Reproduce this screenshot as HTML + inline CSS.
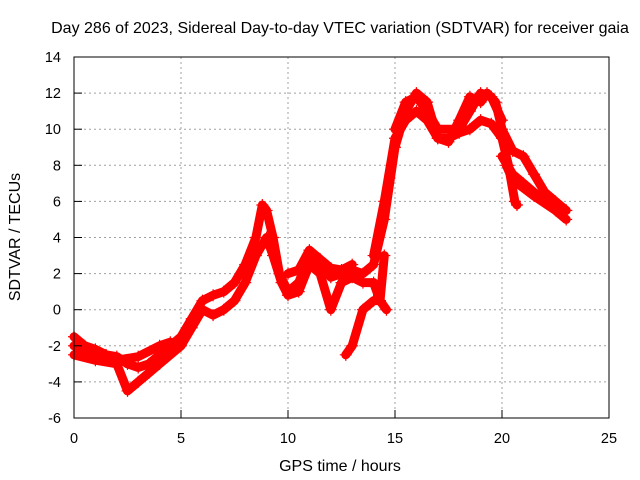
<!DOCTYPE html>
<html><head><meta charset="utf-8"><style>
body{margin:0;background:#fff;}
svg{display:block;font-family:"Liberation Sans",sans-serif;}
</style></head><body>
<svg id="chart" width="640" height="480" viewBox="0 0 640 480">
<rect width="640" height="480" fill="#fff"/>
<text x="340" y="33" text-anchor="middle" font-size="16">Day 286 of 2023, Sidereal Day-to-day VTEC variation (SDTVAR) for receiver gaia</text>
<g id="grid"></g>
<g id="series"></g>
<rect x="74" y="57" width="535" height="361" fill="none" stroke="#000"/>
<g id="axes"></g>
<text x="340" y="471" text-anchor="middle" font-size="16">GPS time / hours</text>
<text transform="translate(20,237) rotate(-90)" text-anchor="middle" font-size="16">SDTVAR / TECUs</text>
</svg>
<script>
const xTicks=[0,5,10,15,20,25];
const yTicks=[-6,-4,-2,0,2,4,6,8,10,12,14];
const trackA=[[0,-1.5],[0.5,-2],[1,-2.2],[1.5,-2.5],[2,-2.6],[2.5,-3],[3,-3.2],[3.5,-3],[4,-2.5],[4.5,-2],[5,-1.5],[5.5,-0.5],[6,0.5],[6.5,0.8],[7,1],[7.5,1.5],[8,2.5],[8.5,4],[8.8,5.8],[9,5.5],[9.3,4],[9.6,2],[10,1],[10.5,1.5],[11,3],[11.5,2.5],[12,1.8],[12.5,2],[13,2.2],[13.5,2],[14,2.5],[14.5,5],[15,9],[15.5,11],[16,12],[16.5,11.5],[17,9.5],[17.5,9.3],[18,10.5],[18.5,11.8],[19,11.5],[19.3,12],[19.7,11.5],[20,10],[20.5,8.8],[21,8.5],[21.5,7.5],[22,6.5],[22.5,6],[23,5.5]];
const trackB=[[0,-2.5],[1,-2.8],[2,-3],[2.5,-4.5],[3,-4],[3.5,-3.5],[4,-3],[5,-2],[5.5,-1],[6,0],[6.5,-0.3],[7,0],[7.5,0.5],[8,1.5],[8.5,3],[9,4],[9.3,3],[9.7,1.5],[10,0.8],[10.5,1],[11,2.5],[11.5,2],[12,0],[12.5,1.5],[13,1.8],[13.5,1.5],[14,1.5],[14.3,0.5],[14.6,0]];
const trackC=[[12.7,-2.5],[13,-2],[13.5,0],[14,0.5],[14.3,0.5],[14.5,3]];
const trackD=[[14,3],[14.5,6],[15,9.5],[15.5,10.5],[16,11],[16.5,10.5],[17,9.5],[17.5,9.5],[18,9.8],[18.5,10],[19,10.5],[19.5,10.3],[20,9.5],[20.3,8],[20.6,6],[20.7,5.8]];
const trackE=[[20,8.5],[20.5,7.5],[21,7],[22,6],[23,5.5]];
const trackF=[[20.2,8],[20.5,7.2],[21.5,6.3],[22.5,5.5],[23,5]];
const trackG=[[0,-2],[1,-2.5],[2,-2.8],[3,-2.6],[4,-2],[4.5,-1.8]];
const trackH=[[10,2],[10.5,2.2],[11,3.3],[11.5,2.8],[12,2.3],[12.5,2.2],[13,2.5]];
const trackI=[[15,10],[15.5,11.5],[16,11.8],[16.5,11],[17,10],[18,10],[18.5,11],[19,12],[19.5,11.8],[20,10.5]];
const tracks=[trackA,trackB,trackC,trackD,trackE,trackF,trackG,trackH,trackI];
const NS="http://www.w3.org/2000/svg";
const X=v=>74+v*535/25, Y=v=>418-(v+6)*361/20;
const grid=document.getElementById('grid'),axes=document.getElementById('axes'),ser=document.getElementById('series');
function mk(tag,at,parent){const e=document.createElementNS(NS,tag);for(const k in at)e.setAttribute(k,at[k]);parent.appendChild(e);return e;}
xTicks.forEach(t=>{
 const gl=mk('line',{x1:X(t),x2:X(t),y1:57,y2:418,stroke:'#a0a0a0','stroke-dasharray':'2,3','stroke-width':1},grid);
 
 
 const tk=mk('line',{x1:X(t),x2:X(t),y1:418,y2:410,stroke:'#000'},axes);
 
 
 const tx=mk('text',{x:X(t),y:443,'text-anchor':'middle','font-size':14.5},axes);tx.textContent=t;
 
 
});
yTicks.forEach(t=>{
 const gl=mk('line',{x1:74,x2:609,y1:Y(t),y2:Y(t),stroke:'#a0a0a0','stroke-dasharray':'2,3','stroke-width':1},grid);
 
 
 const tk=mk('line',{x1:74,x2:82,y1:Y(t),y2:Y(t),stroke:'#000'},axes);
 
 
 const tx=mk('text',{x:61,y:Y(t)+5,'text-anchor':'end','font-size':14.5},axes);tx.textContent=t;
 
 
});
tracks.forEach(tr=>{
 const p=mk('polyline',{points:tr.map(d=>X(d[0])+','+Y(d[1])).join(' '),fill:'none',stroke:'#ff0000','stroke-width':9,'stroke-linejoin':'round','stroke-linecap':'round'},ser);
 
 
 tr.forEach(d=>{
  const x=X(d[0]),y=Y(d[1]);
  const m=mk('path',{d:`M${x-6},${y}h12M${x},${y-6}v12`,stroke:'#ff0000','stroke-width':1.2},ser);
  
  
 });
});
</script>
</body></html>
